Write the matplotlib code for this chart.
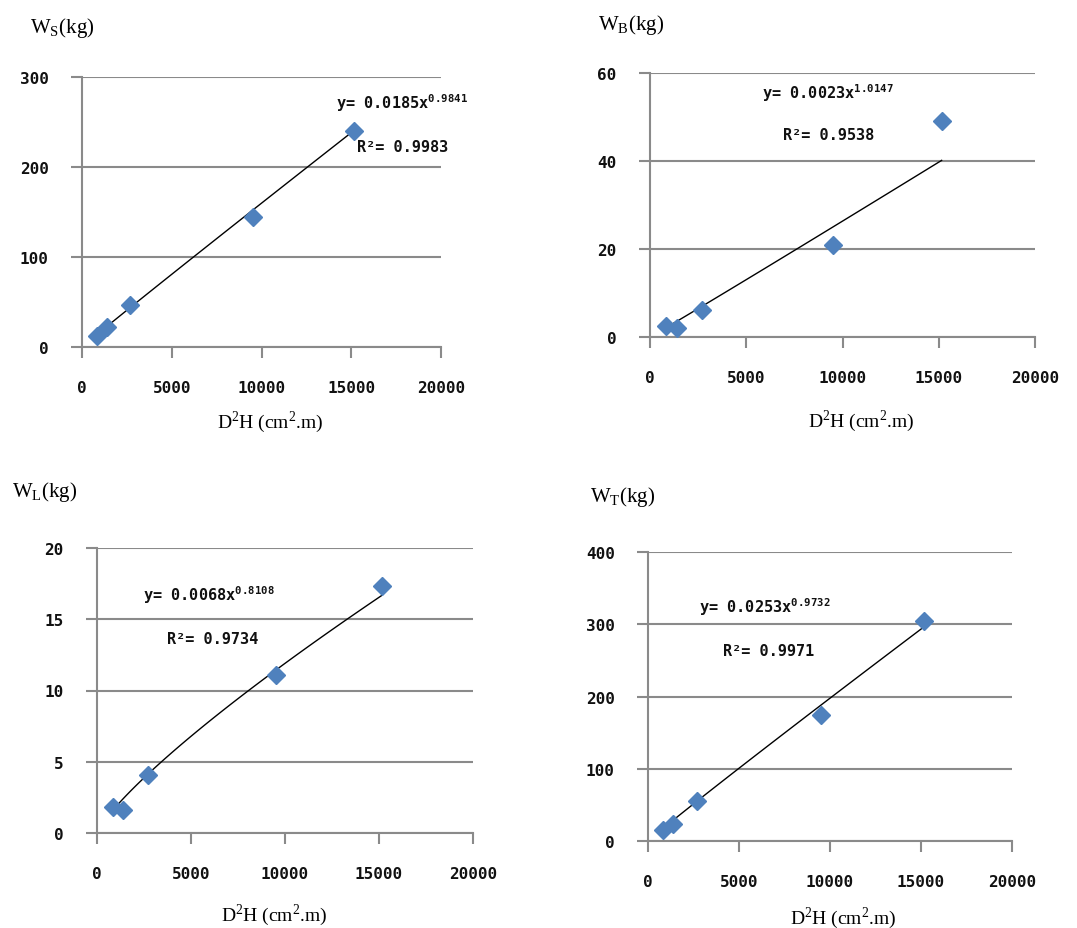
import numpy as np
import matplotlib
matplotlib.use("Agg")
import matplotlib.pyplot as plt

# D2H values (cm2.m) shared by all four panels
d2h = [850, 1380, 2700, 9520, 15150]

# biomass per part (kg)
w_stem = [12, 22, 47, 144, 240]
w_branch = [2.6, 2.1, 6.2, 20.8, 49]
w_leaf = [1.8, 1.6, 4.1, 11.1, 17.3]
w_total = [15, 24, 55, 175, 305]

# power trendlines y = a * x^b as printed on the chart
coef_a = [0.0185, 0.0023, 0.0068, 0.0253]
coef_b = [0.9841, 1.0147, 0.8108, 0.9732]
r2 = ["0.9983", "0.9538", "0.9734", "0.9971"]
a_txt = ["0.0185", "0.0023", "0.0068", "0.0253"]
b_txt = ["0.9841", "1.0147", "0.8108", "0.9732"]

subs = ["S", "B", "L", "T"]
ymax = [300, 60, 20, 400]
ystep = [100, 20, 5, 100]

plt.rcParams['mathtext.fontset'] = 'custom'
plt.rcParams['mathtext.rm'] = 'Liberation Serif'
plt.rcParams['mathtext.bf'] = 'DejaVu Sans Mono:bold'

W, H = 1077, 929
fig = plt.figure(figsize=(W / 100, H / 100), dpi=100)

# pixel boxes: x0, x1 (x=0..20000), ybottom, ytop
boxes = [(82, 441, 348, 78), (650, 1035, 338, 74),
         (97, 473, 834, 549), (648, 1012, 842, 553)]
# y-label, x-label and equation / R2 positions (pixels)
ylab_pos = [(30, 28), (598, 25), (12, 492), (590, 497)]
xlab_pos = [(270, 422), (861, 421), (274, 915), (843, 918)]
eq_pos = [(336, 103), (762, 93), (143, 595), (699, 607)]
r2_pos = [(357, 147), (783, 136), (167, 640), (723, 652)]

series = [w_stem, w_branch, w_leaf, w_total]
grid_col = "#8a8a8a"
mono = "DejaVu Sans Mono"

for i in range(4):
    x0, x1, yb, yt = boxes[i]
    ax = fig.add_axes([x0 / W, 1 - yb / H, (x1 - x0) / W, (yb - yt) / H])
    ax.set_xlim(0, 20000)
    ax.set_ylim(0, ymax[i])
    ax.set_xticks(np.arange(0, 20001, 5000))
    ax.set_yticks(np.arange(0, ymax[i] + 1, ystep[i]))
    ax.yaxis.grid(True, color=grid_col, lw=1.5)
    ax.set_axisbelow(True)
    for s in ["top", "right"]:
        ax.spines[s].set_visible(False)
    for s in ["left", "bottom"]:
        ax.spines[s].set_color(grid_col)
        ax.spines[s].set_linewidth(1.5)
    ax.tick_params(length=8, width=1.5, color=grid_col, pad=16)
    for lab in ax.get_xticklabels() + ax.get_yticklabels():
        lab.set_fontfamily(mono)
        lab.set_fontweight("bold")
        lab.set_fontsize(11.5)
        lab.set_color("#111111")

    xs = np.linspace(min(d2h), max(d2h), 100)
    ax.plot(xs, coef_a[i] * xs ** coef_b[i], color="black", lw=1.0, zorder=2)
    ax.plot(d2h, series[i], ls="none", marker="D", ms=9,
            color="#4f81bd", zorder=3)

    px, py = ylab_pos[i]
    fig.text(px / W, 1 - py / H, r"W$_\mathregular{%s}$(kg)" % subs[i],
             family="Liberation Serif", fontsize=15, va="center", ha="left")
    px, py = xlab_pos[i]
    fig.text(px / W, 1 - py / H, r"D$^\mathregular{2}$H (cm$^\mathregular{2}$.m)",
             family="Liberation Serif", fontsize=14, va="center", ha="center")
    px, py = eq_pos[i]
    fig.text(px / W, 1 - py / H, r"y= %sx$^\mathbf{%s}$" % (a_txt[i], b_txt[i]),
             family=mono, weight="bold", fontsize=11, va="center", ha="left",
             color="#111111")
    px, py = r2_pos[i]
    fig.text(px / W, 1 - py / H, "R\u00b2= %s" % r2[i],
             family=mono, weight="bold", fontsize=11, va="center", ha="left",
             color="#111111")

fig.savefig("out.png", dpi=100)
